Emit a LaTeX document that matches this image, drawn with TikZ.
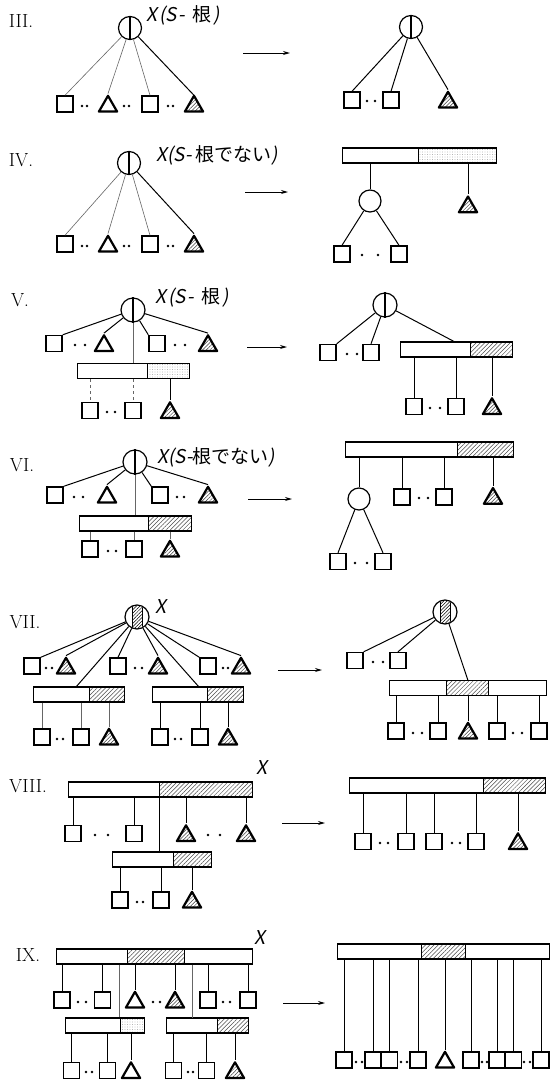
\documentclass[tikz,border=0pt]{standalone}
\usepackage{fontspec}
\newfontfamily\jp{Noto Sans CJK JP}
\newfontfamily\jpsl[FakeSlant=0.18]{Noto Sans CJK JP}
\usetikzlibrary{shapes.geometric,patterns.meta,arrows.meta,calc}

\tikzset{
  sq/.style={draw, line width=1.4pt, minimum size=16pt, inner sep=0pt},
  tri/.style={draw, regular polygon, regular polygon sides=3, line width=2.2pt,
    minimum size=21pt, inner sep=0pt, line join=round},
  htri/.style={tri, pattern={Lines[angle=45,distance=2.6pt,line width=0.5pt]}, pattern color=black!75},
  circ/.style={draw, circle, line width=1.2pt, minimum size=23pt, inner sep=0pt},
  seg/.style={draw, line width=1.3pt, minimum height=15pt, inner sep=0pt, anchor=west},
  hseg/.style={seg, pattern={Lines[angle=45,distance=3pt,line width=0.5pt]}, pattern color=black!70},
  sseg/.style={seg, pattern={Dots[distance=2.5pt,radius=0.35pt]}, pattern color=black!45},
  link/.style={line width=1pt},
  faint/.style={line width=0.6pt, black!60},
  arr/.style={-{Stealth[length=7pt,width=4pt]}, line width=1pt},
  num/.style={font=\fontsize{19}{19}\selectfont, inner sep=0pt},
  lab/.style={font=\jpsl\fontsize{19}{19}\selectfont, inner sep=0pt, anchor=base west},
  xl/.style={font=\jpsl\fontsize{19}{19}\selectfont, inner sep=0pt},
}
% two small dots between neighbouring leaves
\newcommand\pair[3]{\fill (#1,#3) circle (1.3pt) (#2,#3) circle (1.3pt);}
% vertical divider of a circle node
\newcommand\split[1]{\draw[line width=1.2pt] (#1.north) -- (#1.south);}
% circle with a hatched middle strip
\newcommand\hsplit[1]{%
  \begin{scope}
    \clip (#1) circle (11.5pt);
    \fill[pattern={Lines[angle=45,distance=2.4pt,line width=0.5pt]}] ($(#1)+(-5,-13)$) rectangle ($(#1)+(5,13)$);
    \draw[line width=1pt] ($(#1)+(-5,-13)$) -- ($(#1)+(-5,13)$) ($(#1)+(5,-13)$) -- ($(#1)+(5,13)$);
  \end{scope}}

\begin{document}
\begin{tikzpicture}[x=1pt,y=-1pt]
\fill[white] (0,0) rectangle (551,1082);
\useasboundingbox (0,0) rectangle (551,1082);

% ================= III =================
\node[num] (n3) at (21,21) {III.};
\node[circ] (c3) at (130,28) {}; \split{c3}
\node[lab] (x3) at (146,21) {X\kern2pt(S\kern2pt-\kern7pt{\jp 根}\kern2pt)};
\node[sq] (s3a) at (65,104) {};
\node[tri] (t3a) at (108,106.3) {};
\node[sq] (s3b) at (150,104) {};
\node[htri] (t3b) at (194,106.3) {};
\pair{82}{87}{106} \pair{124}{129}{106} \pair{168}{173}{106}
\draw[faint] (c3) -- (s3a.north);
\draw[faint] (c3) -- (t3a.corner 1);
\draw[faint] (c3) -- (s3b.north);
\draw[link] (c3) -- (t3b.corner 1);
\coordinate (a3s) at (243,53); \coordinate (a3e) at (290,53);
\draw[arr] (a3s) -- (a3e);

\node[circ] (c3r) at (411,27) {}; \split{c3r}
\node[sq] (s3ra) at (352,100) {};
\node[sq] (s3rb) at (391,100) {};
\node[htri] (t3r) at (448,102.3) {};
\pair{367}{375}{101}
\draw[link] (c3r) -- (s3ra.north);
\draw[link] (c3r) -- (s3rb.north);
\draw[link] (c3r) -- (t3r.corner 1);

% ================= IV =================
\node[num] (n4) at (21,160) {IV.};
\node[circ] (c4) at (129,163) {}; \split{c4}
\node[lab] (x4) at (156,161) {X(S-\kern4pt{\jp 根でない})};
\node[sq] (s4a) at (65,244) {};
\node[tri] (t4a) at (108,246.3) {};
\node[sq] (s4b) at (150,244) {};
\node[htri] (t4b) at (194,246.3) {};
\pair{82}{87}{246} \pair{124}{129}{246} \pair{168}{173}{246}
\draw[faint] (c4) -- (s4a.north);
\draw[faint] (c4) -- (t4a.corner 1);
\draw[faint] (c4) -- (s4b.north);
\draw[link] (c4) -- (t4b.corner 1);
\coordinate (a4s) at (245,192); \coordinate (a4e) at (288,192);
\draw[arr] (a4s) -- (a4e);

\node[seg, minimum width=76] (b4a) at (342,155.5) {};
\node[sseg, minimum width=78] (b4b) at (418,155.5) {};
\node[circ, minimum size=22pt] (c4r) at (370,201) {};
\node[htri] (t4r) at (468,207) {};
\node[sq] (s4ra) at (342,254) {};
\node[sq] (s4rb) at (399,254) {};
\pair{362}{378}{255}
\draw[link] (b4a.south -| c4r) -- (c4r);
\draw[link] (b4b.south -| t4r.corner 1) -- (t4r.corner 1);
\draw[link] (c4r) -- (s4ra.north);
\draw[link] (c4r) -- (s4rb.north);

% ================= V =================
\node[num] (n5) at (20,300) {V.};
\node[circ, minimum size=24pt] (c5) at (133,310) {}; \split{c5}
\node[lab] (x5) at (155,303) {X\kern2pt(S\kern2pt-\kern7pt{\jp 根}\kern2pt)};
\node[sq] (s5a) at (54,343.5) {};
\node[tri] (t5a) at (104,345.8) {};
\node[sq] (s5b) at (157,343.5) {};
\node[htri] (t5b) at (208,345.8) {};
\pair{75}{85}{345} \pair{175}{185}{345}
\draw[link] (c5) -- (s5a.north east);
\draw[link] (c5) -- (t5a.corner 1);
\draw[link] (c5) -- (s5b.north west);
\draw[link] (c5) -- (t5b.corner 1);
\node[seg, minimum width=70] (b5a) at (77,371) {};
\node[sseg, minimum width=42] (b5b) at (147,371) {};
\draw[faint] (c5.south) -- (c5 |- b5a.north);
\node[sq] (s5c) at (90,410.5) {};
\node[sq] (s5d) at (133,410.5) {};
\node[htri] (t5c) at (170,412.8) {};
\pair{107}{115}{412}
\draw[faint, dashed] (b5a.south -| s5c.north) -- (s5c.north);
\draw[faint, dashed] (b5a.south -| s5d.north) -- (s5d.north);
\draw[link] (b5b.south -| t5c.corner 1) -- (t5c.corner 1);
\coordinate (a5s) at (247,347); \coordinate (a5e) at (287,347);
\draw[arr] (a5s) -- (a5e);

\node[circ, minimum size=24pt] (c5r) at (385,305) {}; \split{c5r}
\node[sq] (s5ra) at (328,352.5) {};
\node[sq] (s5rb) at (371,352.5) {};
\pair{347}{357}{354}
\node[seg, minimum width=70] (b5ra) at (400,349.5) {};
\node[hseg, minimum width=42] (b5rb) at (470,349.5) {};
\coordinate (j5) at (455,342);
\draw[link] (c5r) -- (s5ra.north east);
\draw[link] (c5r) -- (s5rb.north);
\draw[link] (c5r) -- (j5);
\node[sq] (s5rc) at (414,406.5) {};
\node[sq] (s5rd) at (456,406.5) {};
\node[htri] (t5r) at (492,408.8) {};
\pair{430}{440}{408}
\draw[link] (b5ra.south -| s5rc.north) -- (s5rc.north);
\draw[link] (b5ra.south -| s5rd.north) -- (s5rd.north);
\draw[link] (b5rb.south -| t5r.corner 1) -- (t5r.corner 1);

% ================= VI =================
\node[num] (n6) at (22,465) {VI.};
\node[circ, minimum size=24pt] (c6) at (135,462) {}; \split{c6}
\node[lab] (x6) at (157,463) {X(S-{\jp 根でない})};
\node[sq] (s6a) at (55,495) {};
\node[tri] (t6a) at (107,497.3) {};
\node[sq] (s6b) at (160,495) {};
\node[htri] (t6b) at (208,497.3) {};
\pair{74}{83}{497} \pair{177}{184}{497}
\draw[link] (c6) -- (s6a.north east);
\draw[link] (c6) -- (t6a.corner 1);
\draw[link] (c6) -- (s6b.north west);
\draw[link] (c6) -- (t6b.corner 1);
\node[seg, minimum width=69] (b6a) at (79,523.5) {};
\node[hseg, minimum width=43] (b6b) at (148,523.5) {};
\draw[faint] (c6.south) -- (c6 |- b6a.north);
\node[sq] (s6c) at (90,549) {};
\node[sq] (s6d) at (134,549) {};
\node[htri] (t6c) at (170,551.3) {};
\pair{108}{116}{551}
\draw[faint] (b6a.south -| s6c.north) -- (s6c.north);
\draw[faint] (b6a.south -| s6d.north) -- (s6d.north);
\draw[faint] (b6b.south -| t6c.corner 1) -- (t6c.corner 1);
\coordinate (a6s) at (248,499); \coordinate (a6e) at (292,499);
\draw[arr] (a6s) -- (a6e);

\node[seg, minimum width=112] (b6ra) at (345,449.5) {};
\node[hseg, minimum width=56] (b6rb) at (457,449.5) {};
\node[circ, minimum size=22pt] (c6r) at (359,499) {};
\node[sq] (s6ra) at (402,497) {};
\node[sq] (s6rb) at (444,497) {};
\pair{419}{428}{498}
\node[htri] (t6r) at (493,498.5) {};
\node[sq] (s6rc) at (338,561.5) {};
\node[sq] (s6rd) at (383,561.5) {};
\pair{355}{367}{563}
\draw[link] (b6ra.south -| c6r) -- (c6r);
\draw[link] (b6ra.south -| s6ra.north) -- (s6ra.north);
\draw[link] (b6ra.south -| s6rb.north) -- (s6rb.north);
\draw[link] (b6rb.south -| t6r.corner 1) -- (t6r.corner 1);
\draw[link] (c6r) -- (s6rc.north);
\draw[link] (c6r) -- (s6rd.north);

% ================= VII =================
\node[num] (n7) at (25,622) {VII.};
\node[circ, minimum size=24pt] (c7) at (137,617) {}; \hsplit{c7}
\node[xl] (x7) at (161,607) {X};
\node[sq] (s7a) at (32,666) {};
\node[htri] (t7a) at (66,668.3) {};
\node[sq] (s7b) at (118,666) {};
\node[htri] (t7b) at (158,668.3) {};
\node[sq] (s7c) at (208,666) {};
\node[htri] (t7c) at (241,668.3) {};
\pair{46}{52}{668} \pair{135}{142}{668} \pair{223}{228}{668}
\node[seg, minimum width=56] (b7a) at (33,694.5) {};
\node[hseg, minimum width=35] (b7b) at (89,694.5) {};
\node[seg, minimum width=55] (b7c) at (152,694.5) {};
\node[hseg, minimum width=36] (b7d) at (207,694.5) {};
\coordinate (j7a) at (76,687); \coordinate (j7b) at (199,687);
\draw[link] (c7) -- (s7a.north east);
\draw[link] (c7) -- (t7a.corner 1);
\draw[link] (c7) -- (j7a);
\draw[link] (c7) -- (s7b.north);
\draw[link] (c7) -- (t7b.corner 1);
\draw[link] (c7) -- (j7b);
\draw[link] (c7) -- (s7c.north west);
\draw[link] (c7) -- (t7c.corner 1);
\node[sq] (s7d) at (42,737) {};
\node[sq] (s7e) at (81,737) {};
\node[htri] (t7d) at (109,739.3) {};
\node[sq] (s7f) at (160,737) {};
\node[sq] (s7g) at (200,737) {};
\node[htri] (t7e) at (228,739.3) {};
\pair{57}{63}{739} \pair{175}{181}{739}
\draw[faint] (b7a.south -| s7d.north) -- (s7d.north);
\draw[faint] (b7a.south -| s7e.north) -- (s7e.north);
\draw[faint] (b7b.south -| t7d.corner 1) -- (t7d.corner 1);
\draw[link] (b7c.south -| s7f.north) -- (s7f.north);
\draw[link] (b7c.south -| s7g.north) -- (s7g.north);
\draw[link] (b7d.south -| t7e.corner 1) -- (t7e.corner 1);
\coordinate (a7s) at (278,670); \coordinate (a7e) at (322,670);
\draw[arr] (a7s) -- (a7e);

\node[circ, minimum size=24pt] (c7r) at (445,612) {}; \hsplit{c7r}
\node[sq] (s7ra) at (355,660.5) {};
\node[sq] (s7rb) at (398,660.5) {};
\pair{373}{383}{662}
\node[seg, minimum width=57] (b7ra) at (389,688) {};
\node[hseg, minimum width=42] (b7rb) at (446,688) {};
\node[seg, minimum width=58] (b7rc) at (488,688) {};
\coordinate (j7r) at (468,680.5);
\draw[link] (c7r) -- (s7ra.north east);
\draw[link] (c7r) -- (s7rb.north);
\draw[link] (c7r) -- (j7r);
\node[sq] (s7rc) at (396,731) {};
\node[sq] (s7rd) at (438,731) {};
\node[htri] (t7r) at (468,733.3) {};
\node[sq] (s7re) at (497,731) {};
\node[sq] (s7rf) at (539,731) {};
\pair{413}{422}{733} \pair{513}{522}{733}
\draw[link] (b7ra.south -| s7rc.north) -- (s7rc.north);
\draw[link] (b7ra.south -| s7rd.north) -- (s7rd.north);
\draw[link] (b7rb.south -| t7r.corner 1) -- (t7r.corner 1);
\draw[link] (b7rc.south -| s7re.north) -- (s7re.north);
\draw[link] (b7rc.south -| s7rf.north) -- (s7rf.north);

% ================= VIII =================
\node[num] (n8) at (28,786) {VIII.};
\node[xl] (x8) at (262,768) {X};
\node[seg, minimum width=91] (b8a) at (68,789.5) {};
\node[hseg, minimum width=93] (b8b) at (159,789.5) {};
\node[sq] (s8a) at (73,833.5) {};
\node[sq] (s8b) at (134,833.5) {};
\node[htri] (t8a) at (186,835.8) {};
\node[htri] (t8b) at (246,835.8) {};
\pair{95}{108}{835} \pair{208}{220}{835}
\draw[link] (b8a.south -| s8a.north) -- (s8a.north);
\draw[link] (b8a.south -| s8b.north) -- (s8b.north);
\draw[link] (b8b.south -| t8a.corner 1) -- (t8a.corner 1);
\draw[link] (b8b.south -| t8b.corner 1) -- (t8b.corner 1);
\node[seg, minimum width=61] (b8c) at (112,859.5) {};
\node[hseg, minimum width=38] (b8d) at (173,859.5) {};
\draw[link] (b8b.south west) -- (b8b.south west |- b8c.north);
\node[sq] (s8c) at (120,900) {};
\node[sq] (s8d) at (161,900) {};
\node[htri] (t8c) at (192,902.3) {};
\pair{137}{143}{902}
\draw[link] (b8c.south -| s8c.north) -- (s8c.north);
\draw[link] (b8c.south -| s8d.north) -- (s8d.north);
\draw[link] (b8d.south -| t8c.corner 1) -- (t8c.corner 1);
\coordinate (a8s) at (282,823); \coordinate (a8e) at (325,823);
\draw[arr] (a8s) -- (a8e);

\node[seg, minimum width=134] (b8ra) at (349,785.5) {};
\node[hseg, minimum width=62] (b8rb) at (483,785.5) {};
\node[sq] (s8ra) at (363,841.5) {};
\node[sq] (s8rb) at (406,841.5) {};
\node[sq] (s8rc) at (434,841.5) {};
\node[sq] (s8rd) at (476,841.5) {};
\node[htri] (t8r) at (518,843.8) {};
\pair{380}{388}{843} \pair{452}{460}{843}
\draw[link] (b8ra.south -| s8ra.north) -- (s8ra.north);
\draw[link] (b8ra.south -| s8rb.north) -- (s8rb.north);
\draw[link] (b8ra.south -| s8rc.north) -- (s8rc.north);
\draw[link] (b8ra.south -| s8rd.north) -- (s8rd.north);
\draw[link] (b8rb.south -| t8r.corner 1) -- (t8r.corner 1);

% ================= IX =================
\node[num] (n9) at (28,955) {IX.};
\node[xl] (x9) at (260,938) {X};
\node[seg, minimum width=70.5] (b9a) at (56,956.5) {};
\node[hseg, minimum width=57] (b9b) at (126.5,956.5) {};
\node[seg, minimum width=68.5] (b9c) at (183.5,956.5) {};
\node[sq] (s9a) at (62,1000) {};
\node[sq] (s9b) at (102.5,1000) {};
\node[tri] (t9a) at (135,1002.3) {};
\node[htri] (t9b) at (175,1002.3) {};
\node[sq] (s9c) at (208,1000) {};
\node[sq] (s9d) at (248,1000) {};
\pair{78}{86}{1002} \pair{153}{160}{1002} \pair{223}{230}{1002}
\draw[link] (b9a.south -| s9a.north) -- (s9a.north);
\draw[link] (b9a.south -| s9b.north) -- (s9b.north);
\draw[link] (b9b.south -| t9a.corner 1) -- (t9a.corner 1);
\draw[link] (b9b.south -| t9b.corner 1) -- (t9b.corner 1);
\draw[link] (b9c.south -| s9c.north) -- (s9c.north);
\draw[link] (b9c.south -| s9d.north) -- (s9d.north);
\node[seg, minimum width=54.5] (b9d) at (65,1025.5) {};
\node[sseg, minimum width=24.5] (b9e) at (119.5,1025.5) {};
\node[seg, minimum width=51] (b9f) at (166,1025.5) {};
\node[hseg, minimum width=31] (b9g) at (217,1025.5) {};
\draw[faint] (b9a.south -| b9e.north west) -- (b9e.north west);
\coordinate (j9) at (192.5,1018);
\draw[faint] (b9c.south -| j9) -- (j9);
\node[sq] (s9e) at (71.5,1070.5) {};
\node[sq] (s9f) at (107.5,1070.5) {};
\node[tri] (t9c) at (131,1072.8) {};
\node[sq] (s9g) at (173.5,1070.5) {};
\node[sq] (s9h) at (206.5,1070.5) {};
\node[htri] (t9d) at (235,1072.8) {};
\pair{86}{92}{1072} \pair{188}{193}{1072}
\draw[link] (b9d.south -| s9e.north) -- (s9e.north);
\draw[link] (b9d.south -| s9f.north) -- (s9f.north);
\draw[link] (b9e.south -| t9c.corner 1) -- (t9c.corner 1);
\draw[link] (b9f.south -| s9g.north) -- (s9g.north);
\draw[link] (b9f.south -| s9h.north) -- (s9h.north);
\draw[link] (b9g.south -| t9d.corner 1) -- (t9d.corner 1);
\coordinate (a9s) at (283,1003); \coordinate (a9e) at (325,1003);
\draw[arr] (a9s) -- (a9e);

\node[seg, minimum width=84] (b9ra) at (337,951.5) {};
\node[hseg, minimum width=43.5] (b9rb) at (421,951.5) {};
\node[seg, minimum width=84] (b9rc) at (464.5,951.5) {};
\node[sq] (r1) at (344,1060) {};
\node[sq] (r2) at (373,1060) {};
\node[sq] (r3) at (389.5,1060) {};
\node[sq] (r4) at (418,1060) {};
\node[tri] (r5) at (445,1062.3) {};
\node[sq] (r6) at (471,1060) {};
\node[sq] (r7) at (497,1060) {};
\node[sq] (r8) at (513.5,1060) {};
\node[sq] (r9) at (541,1060) {};
\pair{356}{362}{1062} \pair{401}{407}{1062} \pair{482}{487}{1062} \pair{524}{530}{1062}
\draw[link] (b9ra.south -| r1.north) -- (r1.north);
\draw[link] (b9ra.south -| r2.north) -- (r2.north);
\draw[link] (b9ra.south -| r3.north) -- (r3.north);
\draw[link] (b9ra.south -| r4.north) -- (r4.north);
\draw[link] (b9rb.south -| r5.corner 1) -- (r5.corner 1);
\draw[link] (b9rc.south -| r6.north) -- (r6.north);
\draw[link] (b9rc.south -| r7.north) -- (r7.north);
\draw[link] (b9rc.south -| r8.north) -- (r8.north);
\draw[link] (b9rc.south -| r9.north) -- (r9.north);
\end{tikzpicture}
\end{document}
